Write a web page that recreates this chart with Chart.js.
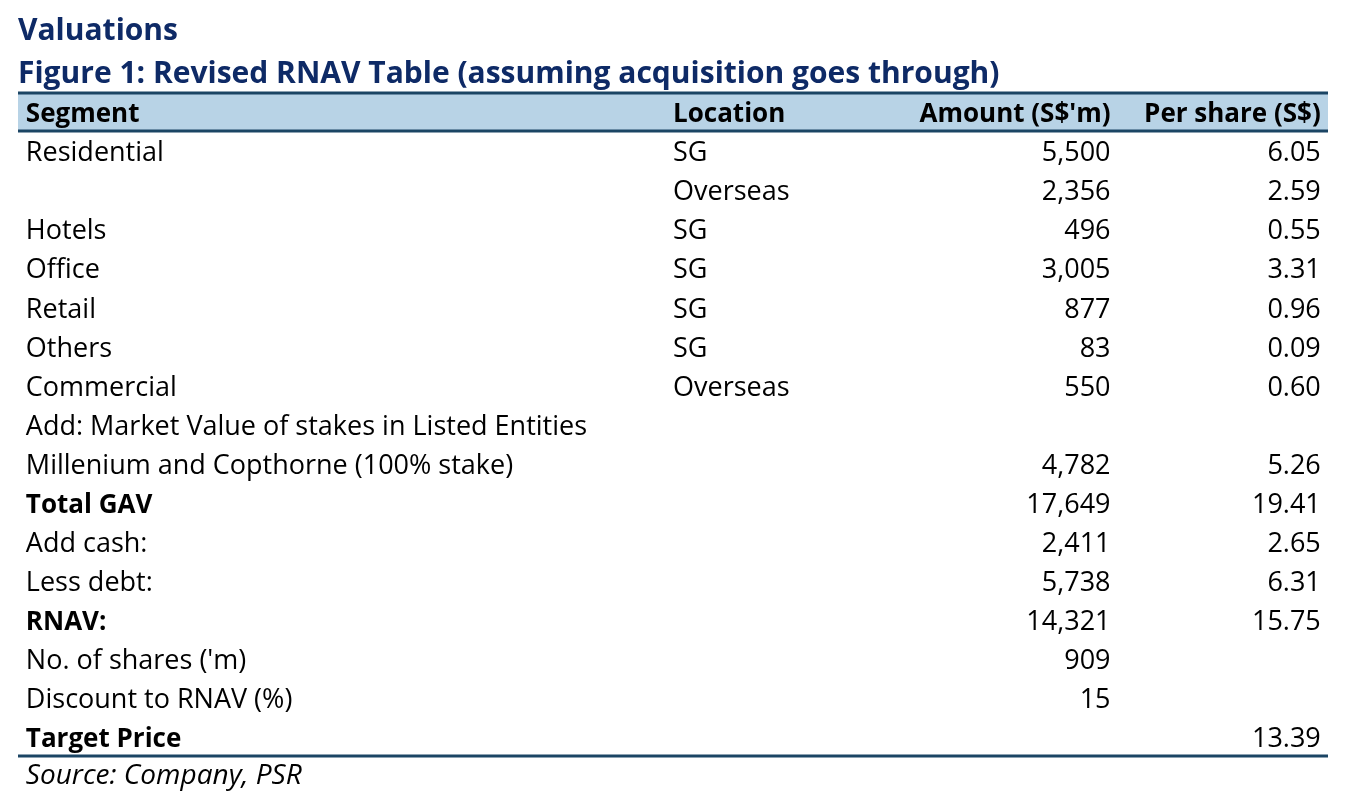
<!DOCTYPE html>
<html>
<head>
<meta charset="utf-8">
<title>Revised RNAV Table</title>
<script src="https://cdn.jsdelivr.net/npm/chart.js@4.4.1/dist/chart.umd.min.js"></script>
<style>
  html, body { margin: 0; padding: 0; background: #fff; }
  #wrap { width: 1350px; height: 812px; }
</style>
</head>
<body>
<div id="wrap"><canvas id="rnav"></canvas></div>
<script>
// Table content
const headers = ["Segment", "Location", "Amount (S$'m)", "Per share (S$)"];
const segments = [
  "Residential", "", "Hotels", "Office", "Retail", "Others", "Commercial",
  "Add: Market Value of stakes in Listed Entities",
  "Millenium and Copthorne (100% stake)",
  "Total GAV", "Add cash:", "Less debt:", "RNAV:",
  "No. of shares ('m)", "Discount to RNAV (%)", "Target Price"
];
const locations = ["SG", "Overseas", "SG", "SG", "SG", "SG", "Overseas", "", "", "", "", "", "", "", "", ""];
const amounts = [5500, 2356, 496, 3005, 877, 83, 550, null, 4782, 17649, 2411, 5738, 14321, 909, 15, null];
const perShare = [6.05, 2.59, 0.55, 3.31, 0.96, 0.09, 0.60, null, 5.26, 19.41, 2.65, 6.31, 15.75, null, null, 13.39];
const boldRows = ["Total GAV", "RNAV:", "Target Price"];
const sourceNote = "Source: Company, PSR";

const FONT = "'Open Sans', sans-serif";
const NAVY = "#0e2a66";
const RULE = "#1b4564";
const TEXT_NUDGE = 3; // Open Sans sits a little high on 'middle'

// one category per table row, header first
const rowLabels = ["header"].concat(segments.map((s, i) => "r" + i));

// column anchors in % of table width (x scale runs 0..100)
const cols = [
  { x: 0.6, align: "left" },
  { x: 50.0, align: "left" },
  { x: 83.4, align: "right" },
  { x: 99.45, align: "right" },
];

function fmtAmount(v) {
  return v == null ? "" : v.toLocaleString("en-US");
}
function fmtShare(v) {
  return v == null ? "" : v.toFixed(2);
}

const tablePlugin = {
  id: "tableText",
  afterDatasetsDraw(chart) {
    const ctx = chart.ctx;
    const xs = chart.scales.x;
    const ys = chart.scales.y;
    const left = xs.getPixelForValue(0);
    const right = xs.getPixelForValue(100);
    const headerBottom = (ys.getPixelForValue(0) + ys.getPixelForValue(1)) / 2;

    ctx.save();
    // rules
    ctx.strokeStyle = RULE;
    ctx.lineWidth = 3;
    [ys.top + 1, headerBottom, ys.bottom].forEach((y) => {
      ctx.beginPath();
      ctx.moveTo(left, y);
      ctx.lineTo(right, y);
      ctx.stroke();
    });

    ctx.textBaseline = "middle";
    ctx.fillStyle = "#000";

    // header
    ctx.font = "bold 26px " + FONT;
    headers.forEach((h, c) => {
      ctx.textAlign = cols[c].align;
      ctx.fillText(h, xs.getPixelForValue(cols[c].x), ys.getPixelForValue(0) + TEXT_NUDGE);
    });

    // body rows
    segments.forEach((seg, i) => {
      const y = ys.getPixelForValue(i + 1) + TEXT_NUDGE;
      const cells = [seg, locations[i], fmtAmount(amounts[i]), fmtShare(perShare[i])];
      cells.forEach((txt, c) => {
        if (!txt) return;
        const bold = c === 0 && boldRows.includes(seg);
        ctx.font = (bold ? "bold 26px " : "27px ") + FONT;
        ctx.textAlign = cols[c].align;
        ctx.fillText(txt, xs.getPixelForValue(cols[c].x), y);
      });
    });

    // source line under the table
    ctx.font = "italic 28px " + FONT;
    ctx.textAlign = "left";
    ctx.fillText(sourceNote, xs.getPixelForValue(cols[0].x), ys.bottom + 20);
    ctx.restore();
  },
};

document.addEventListener("DOMContentLoaded", () => {
  const ctx = document.getElementById("rnav").getContext("2d");

  // header band is a floating bar spanning the header row
  const bandData = rowLabels.map((r, i) => (i === 0 ? [0, 100] : null));

  new Chart(ctx, {
    type: "bar",
    data: {
      labels: rowLabels,
      datasets: [
        {
          data: bandData,
          backgroundColor: "#b8d3e6",
          borderWidth: 0,
          barPercentage: 1,
          categoryPercentage: 1,
        },
      ],
    },
    options: {
      indexAxis: "y",
      responsive: true,
      maintainAspectRatio: false,
      animation: false,
      layout: { padding: { left: 18, right: 22, top: 0, bottom: 56 } },
      scales: {
        x: { type: "linear", min: 0, max: 100, display: false },
        y: { type: "category", display: false, offset: true },
      },
      plugins: {
        legend: { display: false },
        tooltip: { enabled: false },
        title: {
          display: true,
          align: "start",
          text: "Valuations",
          color: NAVY,
          font: { family: FONT, size: 30, weight: "bold", lineHeight: 1.2 },
          padding: { top: 13, bottom: 0 },
        },
        subtitle: {
          display: true,
          align: "start",
          text: "Figure 1: Revised RNAV Table (assuming acquisition goes through)",
          color: NAVY,
          font: { family: FONT, size: 30, weight: "bold", lineHeight: 1.2 },
          padding: { top: 7, bottom: 0 },
        },
      },
    },
    plugins: [tablePlugin],
  });
});
</script>
</body>
</html>
